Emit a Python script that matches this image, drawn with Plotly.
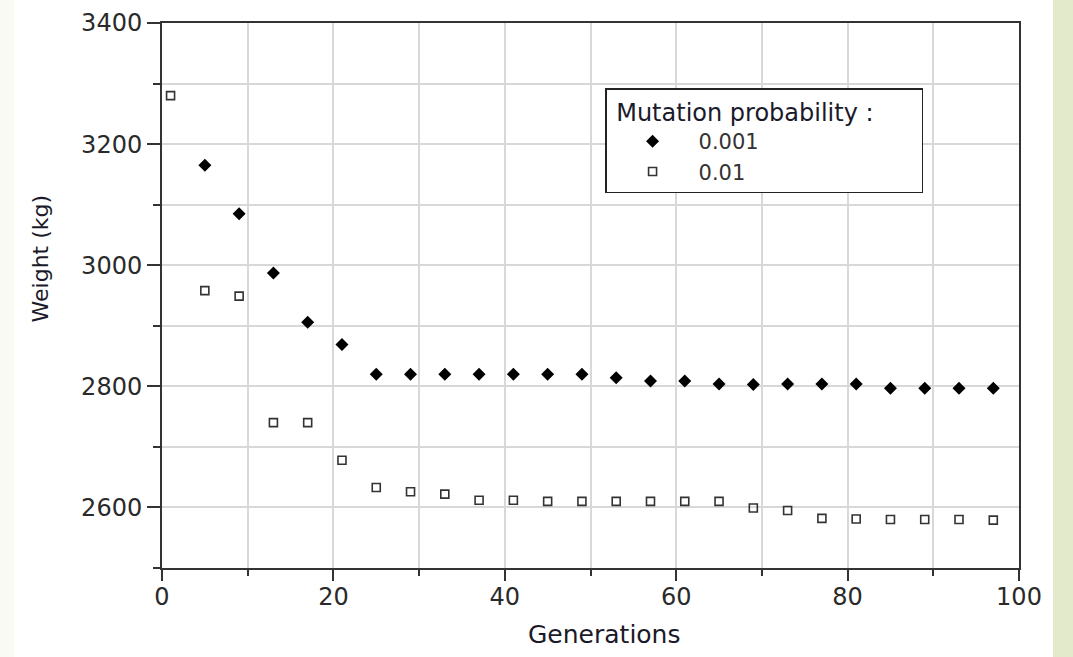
import plotly.graph_objects as go

# Data
gen_low = [5, 9, 13, 17, 21, 25, 29, 33, 37, 41, 45, 49, 53, 57, 61, 65, 69, 73, 77, 81, 85, 89, 93, 97]
weight_low = [3165, 3085, 2987, 2906, 2869, 2820, 2820, 2820, 2820, 2820, 2820, 2820,
              2814, 2809, 2809, 2804, 2803, 2804, 2804, 2804, 2797, 2797, 2797, 2797]

gen_high = [1, 5, 9, 13, 17, 21, 25, 29, 33, 37, 41, 45, 49, 53, 57, 61, 65, 69, 73, 77, 81, 85, 89, 93, 97]
weight_high = [3280, 2958, 2949, 2740, 2740, 2678, 2633, 2626, 2622, 2612, 2612, 2610, 2610,
               2610, 2610, 2610, 2610, 2599, 2595, 2582, 2581, 2580, 2580, 2580, 2579]

series_names = ["0.001", "0.01"]
legend_title = "Mutation probability :"
x_title = "Generations"
y_title = "Weight (kg)"

FONT = "DejaVu Sans"

fig = go.Figure()
fig.add_trace(go.Scatter(
    x=gen_low, y=weight_low, mode="markers", name=series_names[0],
    marker=dict(symbol="diamond", size=10, color="#000000", line=dict(width=0)),
))
fig.add_trace(go.Scatter(
    x=gen_high, y=weight_high, mode="markers", name=series_names[1],
    marker=dict(symbol="square-open", size=8, color="#333333", line=dict(width=1.6, color="#333333")),
))

grid_col = "#d8d8d8"
axis_col = "#333333"

fig.update_xaxes(
    range=[0, 100], dtick=20, tick0=0, automargin=False,
    showgrid=True, gridcolor=grid_col, gridwidth=1.5,
    showline=True, linecolor=axis_col, linewidth=2, mirror=True,
    ticks="outside", ticklen=11, tickwidth=1.5, tickcolor=axis_col,
    ticklabelstandoff=-5,
    minor=dict(dtick=10, tick0=0, showgrid=True, gridcolor=grid_col, gridwidth=1.5,
               ticks="outside", ticklen=6, tickwidth=1.5, tickcolor=axis_col),
    tickfont=dict(family=FONT, size=24, color="#2a2a2a"),
    zeroline=False,
)
fig.update_yaxes(
    range=[2500, 3400], dtick=200, tick0=2600, automargin=False,
    showgrid=True, gridcolor=grid_col, gridwidth=1.5,
    showline=True, linecolor=axis_col, linewidth=2, mirror=True,
    ticks="outside", ticklen=13, tickwidth=1.5, tickcolor=axis_col,
    minor=dict(dtick=100, tick0=2500, showgrid=True, gridcolor=grid_col, gridwidth=1.5,
               ticks="outside", ticklen=7, tickwidth=1.5, tickcolor=axis_col),
    tickfont=dict(family=FONT, size=24, color="#2a2a2a"),
    zeroline=False,
)

fig.update_layout(
    width=1073, height=657,
    margin=dict(l=162, r=54, t=23, b=89, autoexpand=False),
    paper_bgcolor="#ffffff", plot_bgcolor="#ffffff",
    showlegend=True,
    legend=dict(
        x=0.517, y=0.88, xanchor="left", yanchor="top",
        bgcolor="#ffffff", bordercolor="#222222", borderwidth=1.5,
        title=dict(text="\u00a0" + legend_title + "\u00a0" * 6,
                   font=dict(family=FONT, size=24, color="#1a1a2a")),
        font=dict(family=FONT, size=21, color="#333333"),
        itemwidth=82, tracegroupgap=0,
    ),
    annotations=[
        dict(text=x_title, xref="paper", yref="paper", x=0.516, y=-0.1217,
             xanchor="center", yanchor="middle", showarrow=False,
             font=dict(family=FONT, size=25, color="#1a1a2a")),
        dict(text=y_title, xref="paper", yref="paper", x=-0.1424, y=0.568,
             xanchor="center", yanchor="middle", showarrow=False, textangle=-90,
             font=dict(family=FONT, size=22, color="#1a1a2a")),
    ],
    shapes=[
        dict(type="rect", xref="paper", yref="paper", x0=1.0397, x1=1.07, y0=-0.2, y1=1.1,
             fillcolor="#e3e9cb", line=dict(width=0), layer="below"),
        dict(type="rect", xref="paper", yref="paper", x0=-0.2, x1=-0.173, y0=-0.2, y1=1.1,
             fillcolor="#f9faf3", line=dict(width=0), layer="below"),
    ],
)

fig.write_html("out.html")
